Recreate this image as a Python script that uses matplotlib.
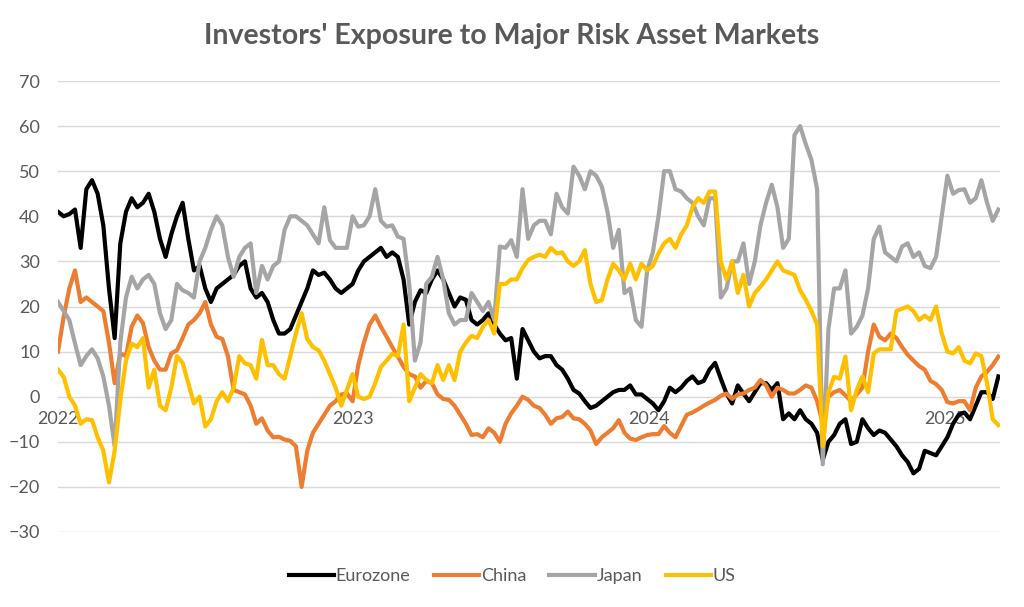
import pandas as pd
import numpy as np
import matplotlib
matplotlib.use("Agg")
import matplotlib.pyplot as plt
import matplotlib.dates as mdates

# ── data (weekly readings) ───────────────────────────────────────────────
dates = pd.date_range("2022-01-01", periods=167, freq="7D")

eurozone = [
    41, 40, 40.5, 41.5, 33, 46, 48, 45, 38, 24,
    13, 34, 41, 44, 42, 43, 45, 41, 35, 31,
    36, 40, 43, 35, 28, 29, 24, 21, 24, 25,
    26, 27, 29, 30, 24, 22, 23, 21, 17, 14,
    14, 15, 18, 21, 24, 28, 27, 27.5, 26, 24,
    23, 24, 25, 28, 30, 31, 32, 33, 31, 32,
    31, 26, 16, 21, 23.6, 23, 26, 28, 26, 23,
    20, 22, 21.5, 17, 16, 17, 18.5, 16, 14, 12.5,
    13, 4, 15, 12.5, 10, 8.5, 9, 9, 7, 6,
    4, 1.5, 0.7, -1, -2.5, -2, -1, 0, 1, 1.5,
    1.5, 2.5, 0.5, 0.5, -0.5, -1.5, -3, -1, 2, 1,
    2, 3.5, 4.5, 3, 3.5, 6, 7.5, 4, 0.7, -1.5,
    2.5, 0.7, -1, 1, 3, 3, 1.5, 3, -5, -3.7,
    -5, -3, -5, -6, -8, -14, -10, -8.5, -6, -5,
    -10.5, -10, -5, -7, -8.5, -7.5, -8, -9.5, -11, -13,
    -14.5, -17, -16, -12, -12.5, -13, -11, -9, -6, -4,
    -3.5, -5, -2, 1, 1, -0.5, 4.5,
]

china = [
    10, 17.7, 24, 28, 21, 22, 21, 20, 19, 12,
    3, 9.6, 9, 15.5, 18, 16.3, 11, 8, 6, 6,
    9.6, 10.3, 13, 16, 17, 18.5, 21, 16, 13.3, 12.8,
    9, 1.5, 1, 0.5, -2, -6, -4.8, -7.5, -9, -8.9,
    -9.5, -9.8, -11, -20, -12, -8, -6, -4, -2, -1,
    0.5, 0.7, -1, 7, 12, 16, 18, 15.5, 13.3, 11,
    8.9, 6.6, 5, 4.5, 2, 3.5, 3, 0.5, -0.5, -0.7,
    -2, -4, -6, -8.5, -8.3, -9, -7, -8, -10, -6,
    -3.7, -2, 0, -0.7, -2, -2.5, -4, -6, -4.8, -4.5,
    -3.3, -4.8, -5, -6, -7.5, -10.5, -9, -8, -7, -5.2,
    -8, -9.3, -9.6, -9, -8.5, -8.3, -8.3, -6.5, -8, -9,
    -6.5, -4, -3.5, -2.8, -2, -1.3, -0.7, 0.2, 0.7, -0.5,
    0.5, 0.7, 1.5, 2, 3.7, 2.5, 0, 2, 1.5, 0.7,
    0.7, 1.5, 2.5, 2, -1, -6, 0, 1, 1.5, 0.3,
    -1, 0.5, 2, 10, 16, 13.3, 12.5, 14, 13, 11,
    9.3, 8, 6.8, 6, 3.5, 2.8, 1.5, -1.2, -1.5, -1,
    -1, -3, 2, 4.5, 5.5, 7, 8.9,
]

japan = [
    21, 19, 17, 11.8, 7, 9, 10.5, 8.5, 4.5, -2,
    -11, 12, 22, 26.6, 24, 26, 27, 25, 18.5, 15,
    17, 25, 23.6, 23, 22, 30, 33, 37, 40, 38,
    31, 26.6, 31, 33, 34, 23, 29, 26, 29, 30,
    37, 40, 40, 39, 38, 36, 34, 42, 34.7, 33,
    33, 33, 40, 37.7, 38, 40, 46, 39, 37.7, 38,
    35.5, 35, 25, 8, 12, 25, 26.6, 31, 26, 18.5,
    16, 17, 17, 23, 21, 19, 21, 17, 33.3, 33,
    34.7, 31, 46, 35, 38, 39, 39, 36, 45, 42,
    40.6, 51, 49, 46, 50, 49, 46.6, 41, 33, 37,
    23, 24, 17, 15.5, 28, 32, 40, 50, 50, 46,
    45.5, 44, 43, 40, 38, 44, 44, 22, 24, 30,
    30, 34, 25, 30, 38, 43, 47, 42, 33, 35,
    58, 60, 56, 52.5, 46, -15, 15, 24, 24, 28,
    14, 15.5, 18, 24, 35, 37.7, 32, 31, 30, 33.3,
    34, 31, 32, 29, 28.5, 31, 40, 49, 45, 45.8,
    46, 43, 44, 48, 43, 39, 41.5,
]

us = [
    6, 4.4, 0, -2, -6, -5, -5.2, -9, -12, -19,
    -12, -0.7, 8, 11.8, 11, 13, 2, 6, -2, -3,
    2, 9, 7.5, 3, -1.5, 0, -6.6, -5, -1, 1,
    -1, 2, 9, 7.4, 7, 4, 12.6, 7, 7, 5,
    4, 9, 14, 18.5, 12.8, 11, 10.3, 8, 5, 2,
    -2, 1.5, 5, 0, -0.5, 0, 3, 6.6, 8, 9.5,
    9, 16, -1, 2, 5, 3.7, 3, 7, 3.7, 7,
    3.7, 10, 12, 13.5, 13, 15.5, 17, 14, 25, 25,
    26, 26, 28.5, 30.3, 31, 31.5, 31, 33, 31.8, 32,
    30, 29, 30, 32.5, 25, 21, 21.4, 26, 29.5, 28,
    26, 29.5, 26, 29.5, 28, 29, 31.8, 34, 35, 33,
    36, 38, 42, 44, 43, 45.5, 45.5, 30, 26, 30,
    23, 27, 20, 23, 24.4, 26, 28, 30, 28, 27.5,
    27, 23.6, 21.5, 19, 16, -11, 1, 4.4, 4, 8.9,
    -3, 1.5, 4.5, 1, 9.6, 10.5, 10.5, 10.5, 19, 19.5,
    20, 19, 17, 18, 17, 20, 14, 10, 9.6, 11,
    8, 7.4, 9.6, 9, 3, -5, -6.3,
]

series_names = ["Eurozone", "China", "Japan", "US"]
year_labels = ["2022", "2023", "2024", "2025"]

# ── style ────────────────────────────────────────────────────────────────
plt.rcParams["font.family"] = ["Lato", "DejaVu Sans"]
TEXT = "#595959"
COLORS = ["#000000", "#ED7D31", "#A5A5A5", "#FFC000"]

fig = plt.figure(figsize=(10.24, 6.07), dpi=100)
ax = fig.add_axes([58 / 1024, 1 - 532 / 607, 942 / 1024, 451 / 607])

for name, vals, col in zip(series_names, [eurozone, china, japan, us], COLORS):
    ax.plot(dates, vals, color=col, linewidth=3.0, label=name, solid_joinstyle="round")

ax.set_ylim(-30, 70)
ax.set_yticks(range(-30, 71, 10))
ax.set_xlim(dates[0], dates[-1] + pd.Timedelta(days=2))
ax.grid(axis="y", color="#D9D9D9", linewidth=1)
ax.set_axisbelow(True)

# category axis crosses at zero, labels sit under the zero line
ax.spines["bottom"].set_position(("data", 0))
for s in ["top", "right", "left", "bottom"]:
    ax.spines[s].set_visible(False)
ax.set_xticks([pd.Timestamp(f"{y}-01-01") for y in year_labels])
ax.set_xticklabels(year_labels)
ax.tick_params(axis="x", length=0, pad=10, labelsize=13, labelcolor=TEXT)
ax.tick_params(axis="y", length=0, pad=13, labelsize=13, labelcolor=TEXT)

fig.text(0.5, 1 - 36 / 607, "Investors' Exposure to Major Risk Asset Markets",
         ha="center", va="center", fontsize=20.5, fontweight="bold", color=TEXT)

leg = fig.legend(loc="center", bbox_to_anchor=(0.5, 1 - 576 / 607), ncol=4,
                 frameon=False, fontsize=13, handlelength=2.5,
                 handletextpad=0.1, columnspacing=1.3)
for t in leg.get_texts():
    t.set_color(TEXT)

fig.savefig("out.png", dpi=100)
